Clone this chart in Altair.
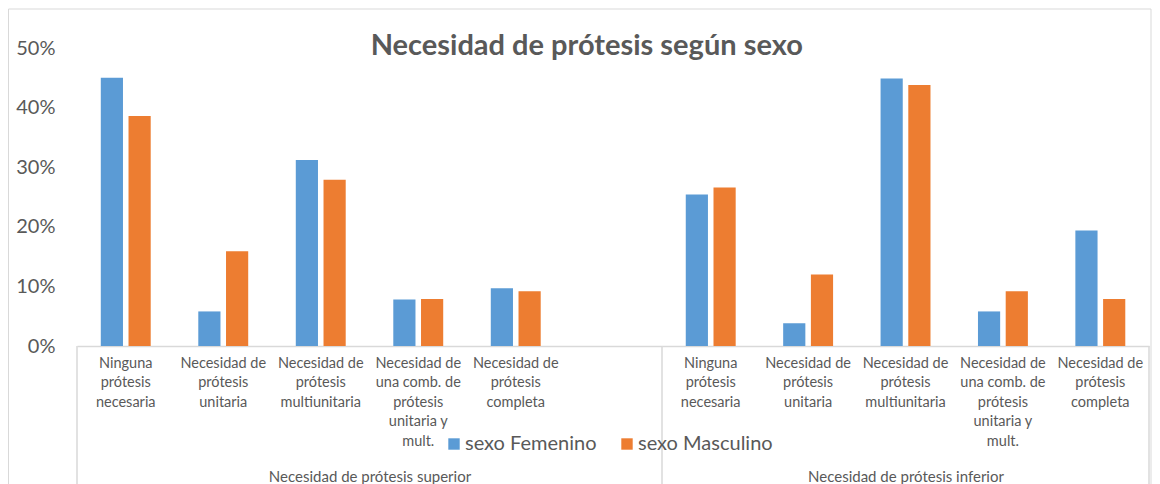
import altair as alt
import pandas as pd

titulo = "Necesidad de prótesis según sexo"
grupos = ["Necesidad de prótesis superior", "Necesidad de prótesis inferior"]
categorias = [
    "Ninguna prótesis necesaria",
    "Necesidad de prótesis unitaria",
    "Necesidad de prótesis multiunitaria",
    "Necesidad de una comb. de prótesis unitaria y mult.",
    "Necesidad de prótesis completa",
]
lineas = [
    ["Ninguna", "prótesis", "necesaria"],
    ["Necesidad de", "prótesis", "unitaria"],
    ["Necesidad de", "prótesis", "multiunitaria"],
    ["Necesidad de", "una comb. de", "prótesis", "unitaria y", "mult."],
    ["Necesidad de", "prótesis", "completa"],
]
series = ["sexo Femenino", "sexo Masculino"]
fem_sup = [0.450, 0.058, 0.312, 0.078, 0.097]
mas_sup = [0.386, 0.159, 0.279, 0.079, 0.092]
fem_inf = [0.254, 0.038, 0.449, 0.058, 0.194]
mas_inf = [0.266, 0.120, 0.438, 0.092, 0.079]
colores = ["#5B9BD5", "#ED7D31"]
ticks_y = [0, 0.1, 0.2, 0.3, 0.4, 0.5]

GRIS = "#595959"
LINEA = "#D9D9D9"
FONT = "Lato"

rows = []
for g, (f_vals, m_vals) in zip(grupos, [(fem_sup, mas_sup), (fem_inf, mas_inf)]):
    for c, fv, mv in zip(categorias, f_vals, m_vals):
        rows.append({"grupo": g, "categoria": c, "sexo": series[0], "valor": fv})
        rows.append({"grupo": g, "categoria": c, "sexo": series[1], "valor": mv})
df = pd.DataFrame(rows)

label_expr = "".join(
    "datum.value == '" + c + "' ? [" + ",".join("'" + s + "'" for s in l) + "] : "
    for c, l in zip(categorias, lineas)
) + "''"

H = 298
W_SUP = 585
W_INF = 487
BOTTOM = 437

leyenda = alt.Legend(
    orient="none", legendX=367, legendY=386, direction="horizontal", title=None,
    symbolType="square", symbolSize=130, symbolStrokeWidth=0, labelFontSize=20,
    labelColor=GRIS, labelFont=FONT, columnPadding=20, labelOffset=1, padding=0,
)


def panel(grupo, dominio, ancho, eje_y):
    d = df[df["grupo"] == grupo]
    y_axis = alt.Axis(
        values=ticks_y, format=".0%", labelFontSize=20, labelColor=GRIS, labelFont=FONT,
        domain=False, ticks=False, tickSize=0, grid=False, labelPadding=22, title=None,
    ) if eje_y else None
    bars = alt.Chart(d).mark_bar().encode(
        x=alt.X(
            "categoria:N", sort=dominio,
            scale=alt.Scale(domain=dominio, paddingInner=0.488, paddingOuter=0.244),
            axis=alt.Axis(
                title=grupo, labelExpr=label_expr, labelAngle=0, labelFontSize=14.5,
                labelColor=GRIS, labelFont=FONT, labelLineHeight=19.5, labelPadding=10,
                labelBaseline="top", labelLimit=0, labelOverlap=False, ticks=False, tickSize=0,
                domainColor=LINEA, domainWidth=1.5, grid=False,
                titleX=ancho / 2, titleY=130, titleAlign="center", titleBaseline="middle",
                titleFontSize=15, titleFontWeight="normal", titleColor=GRIS, titleFont=FONT,
            ),
        ),
        xOffset=alt.XOffset("sexo:N", sort=series, scale=alt.Scale(domain=series, paddingInner=0.2)),
        y=alt.Y("valor:Q", scale=alt.Scale(domain=[0, 0.5]), axis=y_axis),
        color=alt.Color("sexo:N", sort=series, scale=alt.Scale(domain=series, range=colores), legend=leyenda),
    )
    return bars


def linea(x, y, x2=None, y2=None, color=LINEA, w=1.5):
    enc = {"x": alt.value(x), "y": alt.value(y)}
    if x2 is not None:
        enc["x2"] = alt.value(x2)
    if y2 is not None:
        enc["y2"] = alt.value(y2)
    return alt.Chart(pd.DataFrame({"n": [0]})).mark_rule(color=color, strokeWidth=w).encode(**enc)


sup_dom = categorias + [" "]
izq = alt.layer(
    panel(grupos[0], sup_dom, W_SUP, True),
    # marco exterior
    linea(-68.5, -39, y2=BOTTOM, w=1),
    linea(-68.5, -39, x2=1074, w=1),
    linea(1074, -39, y2=BOTTOM, w=1),
    # caja del eje de categorías
    linea(0, H, y2=BOTTOM),
    linea(W_SUP, H, y2=BOTTOM),
).properties(width=W_SUP, height=H)

der = alt.layer(
    panel(grupos[1], categorias, W_INF, False),
    linea(W_INF, H, y2=BOTTOM),
).properties(width=W_INF, height=H)

chart = alt.hconcat(izq, der, spacing=0, bounds="flush").properties(
    title=alt.TitleParams(
        titulo, fontSize=29, font=FONT, fontWeight="bold", color=GRIS,
        anchor="middle", offset=-52, dx=7,
    ),
    padding=0,
).configure_view(stroke=None)

chart.save("out.html", embed_options={"renderer": "svg", "actions": False})
